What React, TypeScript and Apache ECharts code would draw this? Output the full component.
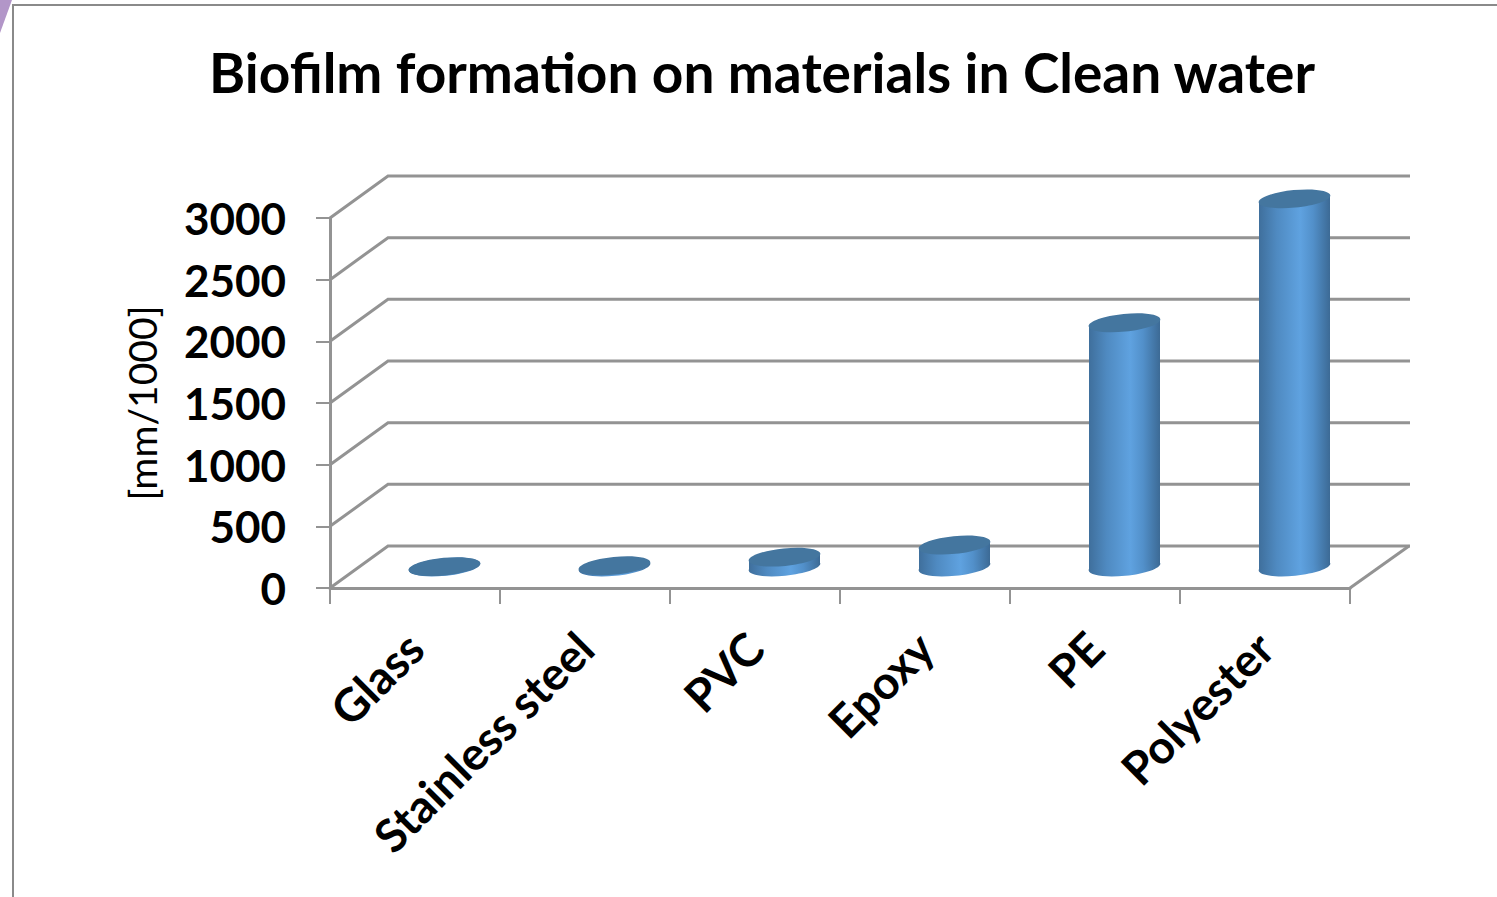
import React, { useEffect, useRef } from "react";
import * as echarts from "echarts";

const titleText = "Biofilm formation on materials in Clean water";
const unitLabel = "[mm/1000]";
const materials = ["Glass", "Stainless steel", "PVC", "Epoxy", "PE", "Polyester"];
const thickness = [3, 10, 80, 178, 1980, 2985];
const wallTicks = [0, 500, 1000, 1500, 2000, 2500, 3000];

const UI_FONT = "Lato";
const AXIS_GRAY = "#939393";
const LINE_W = 3;
const DEPTH_X = 59;
const DEPTH_Y = -42;
const RADIUS_X = 36;
const RADIUS_Y = 8.8;
const HALF_W = 35.5;
const TILT = 3.5;
const CAP_ROTATION = 0.1;

const sideFill = new echarts.graphic.LinearGradient(0, 0, 1, 0, [
  { offset: 0, color: "#3f6f9c" },
  { offset: 0.25, color: "#4f8ac1" },
  { offset: 0.58, color: "#5fa2e0" },
  { offset: 0.76, color: "#5290ca" },
  { offset: 1, color: "#3c6a95" },
]);

// Walls and floor of the 3D box: one slanted rib and back line per tick.
function renderWall(params: any, api: any) {
  const sys = params.coordSys;
  const y = api.coord([0, api.value(1)])[1];
  const backY = y + DEPTH_Y;
  const children: any[] = [
    {
      type: "polyline",
      shape: {
        points: [
          [sys.x, y],
          [sys.x + DEPTH_X - 1, backY],
          [sys.x + sys.width + DEPTH_X + 1, backY],
        ],
      },
      style: { stroke: AXIS_GRAY, lineWidth: LINE_W, fill: "none" },
    },
  ];
  if (api.value(1) === 0) {
    children.push({
      type: "line",
      shape: {
        x1: sys.x + sys.width,
        y1: y,
        x2: sys.x + sys.width + DEPTH_X,
        y2: backY,
      },
      style: { stroke: AXIS_GRAY, lineWidth: LINE_W },
    });
  }
  return { type: "group", children };
}

// One cylinder standing halfway into the box depth.
function renderCylinder(_params: any, api: any) {
  const i = api.value(0);
  const v = api.value(1);
  const base = api.coord([i, 0]);
  const top = api.coord([i, v]);
  const cx = base[0] + DEPTH_X / 2;
  const by = base[1] + DEPTH_Y / 2;
  const ty = top[1] + DEPTH_Y / 2;
  const lx = cx - HALF_W;
  const rx = cx + HALF_W;
  const ellipseAt = (y: number, fill: any) => ({
    type: "ellipse",
    x: cx,
    y,
    rotation: CAP_ROTATION,
    shape: { cx: 0, cy: 0, rx: RADIUS_X, ry: RADIUS_Y },
    style: { fill },
  });
  return {
    type: "group",
    children: [
      ellipseAt(by, sideFill),
      {
        type: "polygon",
        shape: {
          points: [
            [lx, ty + TILT],
            [lx, by + TILT],
            [rx, by - TILT],
            [rx, ty - TILT],
          ],
        },
        style: { fill: sideFill },
      },
      ellipseAt(ty, "#44769f"),
    ],
  };
}

export default function App() {
  const ref = useRef<HTMLDivElement>(null);

  useEffect(() => {
    const chart = echarts.init(ref.current!, null, { renderer: "svg" });
    chart.setOption({
      animation: false,
      backgroundColor: "#ffffff",
      title: {
        text: titleText,
        left: 757,
        top: 39,
        textAlign: "center",
        textStyle: { fontFamily: UI_FONT, fontWeight: "bold", fontSize: 55, color: "#000" },
      },
      grid: { left: 330, top: 218, width: 1020, height: 370 },
      xAxis: {
        type: "category",
        data: materials,
        axisLine: { lineStyle: { color: AXIS_GRAY, width: LINE_W } },
        axisTick: { show: true, length: 16, lineStyle: { color: AXIS_GRAY, width: 2 } },
        axisLabel: {
          interval: 0,
          rotate: 45,
          margin: 52,
          fontFamily: UI_FONT,
          fontWeight: "bold",
          fontSize: 46,
          color: "#000",
          hideOverlap: false,
        },
      },
      yAxis: {
        type: "value",
        min: 0,
        max: 3000,
        interval: 500,
        name: unitLabel,
        nameLocation: "middle",
        nameGap: 169,
        nameRotate: 90,
        nameTextStyle: { fontFamily: UI_FONT, fontSize: 39, color: "#000" },
        splitLine: { show: false },
        axisLine: { show: true, lineStyle: { color: AXIS_GRAY, width: LINE_W } },
        axisTick: { show: true, length: 14, lineStyle: { color: AXIS_GRAY, width: 2 } },
        axisLabel: {
          margin: 44,
          padding: [3, 0, 0, 0],
          formatter: (v: number) => String(v),
          fontFamily: UI_FONT,
          fontWeight: "bold",
          fontSize: 44,
          color: "#000",
        },
      },
      graphic: [
        {
          type: "polyline",
          silent: true,
          shape: { points: [[13, 897], [13, 5], [1497, 5]] },
          style: { stroke: "#8a8a8a", lineWidth: 2, fill: "none" },
        },
        {
          type: "polygon",
          silent: true,
          shape: { points: [[0, 0], [12, 0], [0, 33]] },
          style: { fill: "#b296c8" },
        },
      ],
      series: [
        {
          type: "custom",
          z: 1,
          silent: true,
          renderItem: renderWall,
          data: wallTicks.map((v) => [0, v]),
        },
        {
          type: "custom",
          z: 3,
          silent: true,
          renderItem: renderCylinder,
          data: thickness.map((v, i) => [i, v]),
        },
      ],
    });
    return () => chart.dispose();
  }, []);

  return <div ref={ref} style={{ position: "fixed", left: 0, top: 0, width: 1497, height: 897 }} />;
}
